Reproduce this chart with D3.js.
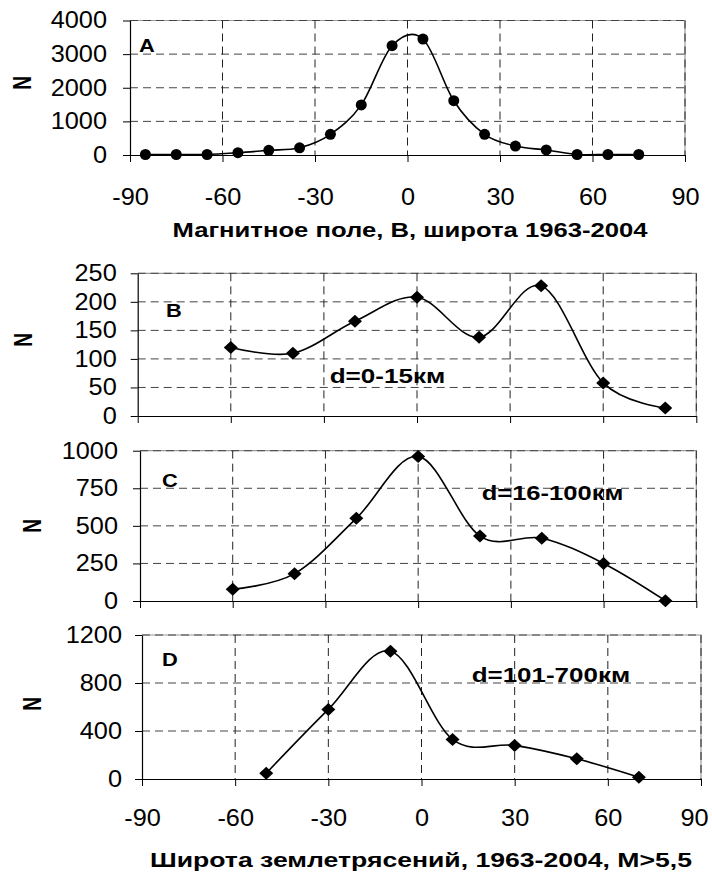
<!DOCTYPE html>
<html>
<head>
<meta charset="utf-8">
<script src="https://cdn.jsdelivr.net/npm/d3@7"></script>
<style>
  body { margin: 0; background: #fff; }
  svg { display: block; }
  text { font-family: "Liberation Sans", Arial, sans-serif; fill: #000; }
</style>
</head>
<body>
<svg id="chart" width="712" height="875"></svg>
<script>
// latitude ticks shared by all panels
const xTicks = [-90, -60, -30, 0, 30, 60, 90];

// A: magnetic field latitude, 1963-2004
const latA = [-85, -75, -65, -55, -45, -35, -25, -15, -5, 5, 15, 25, 35, 45, 55, 65, 75];
const countA = [15, 15, 15, 68, 140, 215, 615, 1490, 3250, 3450, 1615, 615, 265, 150, 15, 15, 15];
const yTicksA = [0, 1000, 2000, 3000, 4000];

// B, C: earthquake latitude (shallow and intermediate)
const latBC = [-60, -40, -20, 0, 20, 40, 60, 80];
const countB = [120, 110, 166, 208, 138, 228, 58, 14];
const yTicksB = [0, 50, 100, 150, 200, 250];
const countC = [78, 182, 550, 962, 432, 418, 250, 2];
const yTicksC = [0, 250, 500, 750, 1000];

// D: earthquake latitude (deep)
const latD = [-50, -30, -10, 10, 30, 50, 70];
const countD = [48, 580, 1065, 330, 280, 168, 15];
const yTicksD = [0, 400, 800, 1200];

const svg = d3.select("#chart");
const fmt = d => String(d);   // plain hyphen minus, no thousands comma
const tickFont = "'Liberation Sans', Arial, sans-serif";
const tickSize = 23;
const tickSx = 1.1;

// the source picture is stretched sideways, so text gets a horizontal scale
function wideText(g, x, y, str, size, sx, anchor, weight) {
  return g.append("text")
    .attr("transform", `translate(${x},${y}) scale(${sx},1)`)
    .attr("text-anchor", anchor || "start")
    .style("font-size", size + "px")
    .style("font-weight", weight || "normal")
    .text(str);
}

function fitText(g, x, y, str, size, len, anchor) {
  return g.append("text")
    .attr("x", x).attr("y", y)
    .attr("text-anchor", anchor || "start")
    .attr("textLength", len)
    .attr("lengthAdjust", "spacingAndGlyphs")
    .style("font-size", size + "px")
    .style("font-weight", "bold")
    .text(str);
}

const panels = [
  { letter: "A", lat: latA, n: countA, yTicks: yTicksA, box: [130, 685, 20.5, 155],
    marker: "circle", labelGap: 23, xLabelY: 50, letterPos: [139, 52], nPos: [21.7, 83] },
  { letter: "B", lat: latBC, n: countB, yTicks: yTicksB, box: [137.7, 696.3, 273.3, 416],
    marker: "diamond", labelGap: 21, xLabelY: null, letterPos: [166, 317], nPos: [23, 340] },
  { letter: "C", lat: latBC, n: countC, yTicks: yTicksC, box: [140, 696.3, 450.7, 601],
    marker: "diamond", labelGap: 22, xLabelY: null, letterPos: [162, 487], nPos: [31.5, 526] },
  { letter: "D", lat: latD, n: countD, yTicks: yTicksD, box: [142, 701, 635, 779],
    marker: "diamond", labelGap: 20, xLabelY: 47, letterPos: [162, 666], nPos: [31.5, 704] }
];

panels.forEach(p => {
  const [x0, x1, y0, y1] = p.box;
  const x = d3.scaleLinear().domain([-90, 90]).range([x0, x1]);
  const y = d3.scaleLinear().domain([0, d3.max(p.yTicks)]).range([y1, y0]);
  const g = svg.append("g");

  // plot area border (top and right)
  g.append("path")
    .attr("d", `M${x0},${y0}H${x1}V${y1}`)
    .attr("fill", "none").attr("stroke", "#9a9a9a").attr("stroke-width", 1.2);

  // dashed gridlines
  g.selectAll(".hgrid").data(p.yTicks.filter(v => v > 0)).join("line")
    .attr("x1", x0).attr("x2", x1)
    .attr("y1", d => y(d)).attr("y2", d => y(d))
    .attr("stroke", "#444").attr("stroke-width", 1).attr("stroke-dasharray", "8,5");
  g.selectAll(".vgrid").data(xTicks.filter(v => v > -90)).join("line")
    .attr("x1", d => x(d)).attr("x2", d => x(d))
    .attr("y1", y0).attr("y2", y1)
    .attr("stroke", "#222").attr("stroke-width", 1).attr("stroke-dasharray", "8,5");

  // y axis
  const yAxis = g.append("g")
    .attr("transform", `translate(${x0},0)`)
    .call(d3.axisLeft(y).tickValues(p.yTicks).tickFormat(fmt)
      .tickSize(7).tickSizeOuter(0).tickPadding(p.labelGap - 7));
  yAxis.selectAll("text")
    .attr("transform", function () { return `translate(${d3.select(this).attr("x")},0) scale(${tickSx},1)`; })
    .attr("x", 0)
    .style("font-size", tickSize + "px").style("font-family", tickFont);

  // x axis
  const xAxis = g.append("g")
    .attr("transform", `translate(0,${y1})`)
    .call(d3.axisBottom(x).tickValues(xTicks).tickFormat(fmt).tickSize(7).tickSizeOuter(0));
  xAxis.selectAll("text")
    .attr("x", 0).attr("y", 0).attr("dy", null)
    .attr("transform", d => {
      // keep the last label inside the page
      const dx = Math.min(0, 709 - (x(d) + 15));
      return `translate(${dx},${p.xLabelY || 0}) scale(${tickSx},1)`;
    })
    .style("display", p.xLabelY ? null : "none")
    .style("font-size", tickSize + "px").style("font-family", tickFont);
  g.selectAll(".domain").attr("stroke", "#000").attr("stroke-width", 1.2);
  g.selectAll(".tick line").attr("stroke", "#000");

  // smoothed data line
  const pts = p.lat.map((v, i) => [x(v), y(p.n[i])]);
  g.append("path")
    .attr("d", d3.line().curve(d3.curveCardinal.tension(0))(pts))
    .attr("fill", "none").attr("stroke", "#000").attr("stroke-width", 1.6);

  // markers
  if (p.marker === "circle") {
    g.selectAll(".pt").data(pts).join("circle")
      .attr("cx", d => d[0]).attr("cy", d => d[1]).attr("r", 5.5).attr("fill", "#000");
  } else {
    g.selectAll(".pt").data(pts).join("path")
      .attr("transform", d => `translate(${d[0]},${d[1]})`)
      .attr("d", "M0,-6.5L7,0L0,6.5L-7,0Z").attr("fill", "#000");
  }

  // panel letter
  wideText(g, p.letterPos[0], p.letterPos[1], p.letter, 19, 1.15, "start", "bold");

  // y axis title
  g.append("text")
    .attr("transform", `translate(${p.nPos[0]},${p.nPos[1]}) scale(1.4,1) rotate(-90)`)
    .attr("text-anchor", "middle").attr("dominant-baseline", "central")
    .style("font-size", "19px").style("font-weight", "bold")
    .text("N");
});

// depth annotations
fitText(svg, 329.7, 382.7, "d=0-15км", 20, 115.5);
fitText(svg, 481.7, 500, "d=16-100км", 20, 141.6);
fitText(svg, 471.7, 681.7, "d=101-700км", 20, 158.4);

// axis titles
fitText(svg, 410, 236.7, "Магнитное поле, В, широта 1963-2004", 19.5, 475, "middle");
fitText(svg, 150, 866.7, "Широта землетрясений, 1963-2004, M>5,5", 20, 542);
</script>
</body>
</html>
